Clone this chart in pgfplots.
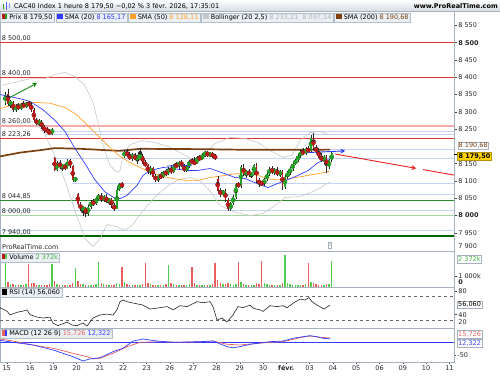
\documentclass[border=0pt]{standalone}
\usepackage{pgfplots}
\pgfplotsset{compat=1.18}
\usepackage{pgfplotstable}
\usepackage{fontspec}
\setmainfont{DejaVu Sans}
\usetikzlibrary{arrows.meta}

\definecolor{cGreenC}{RGB}{35,165,35}
\definecolor{cRedC}{RGB}{185,25,25}
\definecolor{vGreen}{RGB}{80,205,80}
\definecolor{vRed}{RGB}{232,95,95}
\definecolor{smaA}{RGB}{50,60,255}
\definecolor{smaB}{RGB}{255,160,40}
\definecolor{smaC}{RGB}{122,64,16}
\definecolor{boll}{RGB}{200,200,200}
\definecolor{hred}{RGB}{235,50,50}
\definecolor{hpink}{RGB}{245,170,170}
\definecolor{hblue}{RGB}{195,210,245}
\definecolor{hgreen}{RGB}{40,140,40}
\definecolor{hlgreen}{RGB}{165,212,165}
\definecolor{hdgreen}{RGB}{0,100,0}
\definecolor{frame}{RGB}{165,178,190}
\definecolor{legfill}{RGB}{234,239,243}
\definecolor{legdraw}{RGB}{180,190,200}
\definecolor{yellowbox}{RGB}{255,210,0}
\definecolor{redarrow}{RGB}{235,30,30}
\definecolor{bluearrow}{RGB}{40,60,240}
\definecolor{greenarrow}{RGB}{20,140,20}

\newcommand{\fs}{\fontsize{6.5}{7.5}\selectfont}
\newcommand{\sq}[1]{\textcolor{#1}{\rule{5.5pt}{5.5pt}}}
\newcommand{\cxe}{\thisrow{d}+(\thisrow{k}+0.5)/9}

% hourly candles: day index d (15 janv. = 0), hour k, open high low close, volume (k)
\pgfplotstableread{
d k O H L C V
-1 8 8325 8358 8320 8350 2290
0 0 8352 8365 8318 8322 420
0 1 8322 8335 8310 8328 260
0 2 8328 8332 8300 8305 230
0 3 8305 8322 8300 8318 180
0 4 8318 8326 8306 8310 150
0 5 8310 8325 8305 8320 140
0 6 8320 8330 8312 8316 170
0 7 8316 8328 8310 8324 260
0 8 8324 8332 8315 8320 2110
1 0 8320 8328 8300 8305 380
1 1 8305 8312 8270 8275 330
1 2 8275 8282 8262 8268 220
1 3 8268 8278 8258 8272 170
1 4 8272 8275 8250 8255 160
1 5 8255 8262 8240 8248 150
1 6 8248 8256 8238 8244 190
1 7 8244 8250 8232 8236 280
1 8 8236 8254 8233 8250 2110
2 0 8165 8170 8128 8132 520
2 1 8132 8158 8128 8152 300
2 2 8152 8160 8135 8140 210
2 3 8140 8150 8128 8145 170
2 4 8145 8152 8132 8136 150
2 5 8136 8165 8134 8160 200
2 6 8160 8165 8138 8142 180
2 7 8142 8145 8098 8102 330
2 8 8102 8112 8098 8108 1740
3 0 8062 8066 8030 8034 560
3 1 8034 8040 8012 8018 320
3 2 8018 8028 7998 8022 240
3 3 8022 8026 7995 8004 200
3 4 8004 8030 8000 8026 170
3 5 8026 8045 8020 8040 190
3 6 8040 8048 8028 8034 160
3 7 8034 8055 8030 8050 290
3 8 8050 8062 8044 8056 2290
4 0 8056 8065 8040 8046 400
4 1 8046 8060 8038 8055 250
4 2 8055 8062 8035 8040 200
4 3 8040 8052 8030 8048 160
4 4 8048 8050 8022 8028 180
4 5 8028 8036 8012 8020 200
4 6 8020 8080 8018 8075 330
4 7 8075 8094 8070 8090 300
4 8 8090 8096 8080 8086 1830
5 0 8170 8190 8165 8185 480
5 1 8185 8192 8168 8172 280
5 2 8172 8185 8160 8165 200
5 3 8165 8180 8158 8176 160
5 4 8176 8182 8160 8162 150
5 5 8162 8175 8150 8170 170
5 6 8170 8195 8165 8172 200
5 7 8172 8178 8148 8152 280
5 8 8152 8160 8140 8145 2200
6 0 8145 8150 8120 8125 400
6 1 8125 8142 8118 8138 240
6 2 8138 8140 8110 8112 200
6 3 8112 8120 8098 8104 180
6 4 8104 8118 8096 8115 150
6 5 8115 8125 8105 8110 140
6 6 8110 8130 8108 8126 170
6 7 8126 8134 8115 8120 250
6 8 8120 8140 8118 8136 2020
7 0 8136 8145 8120 8125 380
7 1 8125 8150 8122 8146 230
7 2 8146 8155 8138 8142 180
7 3 8142 8158 8136 8155 160
7 4 8155 8160 8140 8145 140
7 5 8145 8150 8125 8130 170
7 6 8130 8146 8126 8142 160
7 7 8142 8162 8138 8158 250
7 8 8158 8165 8150 8154 1830
8 0 8154 8168 8145 8150 360
8 1 8150 8172 8148 8168 220
8 2 8168 8176 8158 8162 170
8 3 8162 8180 8160 8176 150
8 4 8176 8186 8168 8182 160
8 5 8182 8188 8170 8174 140
8 6 8174 8185 8168 8180 150
8 7 8180 8184 8166 8170 240
8 8 8170 8178 8160 8168 2200
9 0 8105 8115 8066 8070 600
9 1 8070 8080 8055 8062 350
9 2 8062 8075 8058 8070 260
9 3 8070 8078 8040 8045 280
9 4 8045 8050 8012 8018 330
9 5 8018 8040 8012 8035 260
9 6 8035 8060 8030 8055 220
9 7 8055 8095 8048 8092 320
9 8 8092 8096 8080 8085 2290
10 0 8085 8145 8080 8140 500
10 1 8140 8148 8115 8120 300
10 2 8120 8132 8110 8128 200
10 3 8128 8135 8112 8118 170
10 4 8118 8125 8108 8122 160
10 5 8122 8150 8118 8145 220
10 6 8145 8152 8095 8100 330
10 7 8100 8110 8082 8095 280
10 8 8095 8100 8085 8092 2390
11 0 8092 8110 8085 8105 380
11 1 8105 8125 8100 8120 250
11 2 8120 8140 8115 8135 200
11 3 8135 8142 8120 8125 170
11 4 8125 8138 8118 8132 150
11 5 8132 8140 8115 8118 160
11 6 8118 8132 8112 8128 170
11 7 8128 8132 8075 8082 350
11 8 8082 8118 8078 8112 2940
12 0 8112 8130 8105 8125 400
12 1 8125 8140 8118 8135 240
12 2 8135 8155 8130 8150 200
12 3 8150 8165 8145 8160 170
12 4 8160 8178 8155 8172 180
12 5 8172 8190 8165 8185 200
12 6 8185 8195 8175 8180 170
12 7 8180 8198 8176 8192 260
12 8 8192 8200 8180 8186 2200
13 0 8186 8232 8182 8225 450
13 1 8225 8238 8190 8195 400
13 2 8195 8205 8180 8185 250
13 3 8185 8195 8165 8170 200
13 4 8170 8180 8155 8160 190
13 5 8160 8175 8150 8170 170
13 6 8170 8176 8124 8140 300
13 7 8140 8165 8135 8160 260
13 8 8160 8185 8155 8179.5 2372
}\candles

\pgfplotstableread{
x y
-0.288 8350
0.571 8338
1.000 8330
1.558 8306
2.073 8275
2.502 8243
2.931 8194
3.361 8150
3.790 8103
4.219 8068
4.648 8050
4.862 8049
5.163 8058
5.592 8087
5.850 8116
6.150 8130
6.708 8139
7.137 8136
7.738 8130
8.167 8130
8.725 8136
9.369 8121
9.798 8110
10.227 8107
10.657 8095
10.957 8087
11.215 8081
11.644 8093
12.073 8104
12.502 8116
12.931 8130
13.361 8153
13.661 8162
13.961 8165.17
}\smaTwenty

\pgfplotstableread{
x y
-0.288 8309
0.142 8318
1.000 8328
1.858 8325
2.502 8312
2.931 8295
3.361 8269
3.790 8240
4.219 8211
4.519 8191
4.862 8171
5.292 8153
5.721 8139
6.150 8126
6.708 8113
7.137 8107
7.738 8101
8.167 8101
8.725 8110
9.369 8116
9.798 8121
10.356 8121
10.786 8116
11.215 8106
11.644 8103
12.073 8106
12.502 8111
12.931 8116
13.361 8121
13.876 8128.11
}\smaFifty

\pgfplotstableread{
x y
-0.288 8171
0.571 8182
1.429 8189
2.073 8195
3.146 8193
4.862 8187
5.721 8193
8.296 8192
10.442 8190
12.588 8190
13.876 8190.68
}\smaTwoHundred

\pgfplotstableread{
x y
-0.288 8376
0.356 8385
1.000 8396
1.644 8396
2.073 8408
2.502 8414
2.931 8402
3.361 8376
3.704 8327
3.919 8269
4.090 8212
4.433 8145
4.734 8125
4.862 8130
4.991 8176
5.292 8205
5.807 8217
6.365 8211
6.923 8200
7.438 8182
8.082 8159
8.511 8182
8.940 8208
9.584 8226
10.227 8223
10.786 8211
11.300 8188
11.858 8168
12.245 8174
12.588 8217
13.017 8240
13.446 8243
13.876 8233.21
}\bollUp

\pgfplotstableread{
x y
-0.288 8269
0.571 8275
1.215 8270
1.644 8235
2.073 8170
2.502 8101
2.931 8014
3.361 7933
3.704 7910
4.004 7933
4.305 7974
4.734 7968
5.077 7957
5.421 7974
5.721 8003
6.150 8038
6.579 8067
7.009 8090
7.438 8105
7.867 8110
8.296 8100
8.725 8072
9.155 8029
9.798 8009
10.442 8000
11.000 8006
11.515 8029
11.944 8052
12.588 8055
13.232 8072
13.876 8097.14
}\bollLow

\pgfplotstableread{
x y
-0.288 51.7
0.013 46
0.142 39.5
0.442 44
0.700 46
0.871 48
1.000 40
1.300 36
1.558 34.5
1.858 36
1.987 26
2.202 21.7
2.588 27.8
2.803 22.8
3.017 21.7
3.275 26
3.447 21
3.704 34.5
4.004 39.5
4.305 41
4.562 39.5
4.734 48
4.862 61.7
4.991 64.5
5.163 61.7
5.421 59.5
5.850 56
6.150 49.5
6.451 51
6.880 53.5
7.137 48
7.438 55
7.738 53.5
8.167 61.7
8.425 60
8.725 61.7
8.854 53.5
9.026 31
9.241 34.5
9.455 27.8
9.712 39.5
9.927 53.5
10.142 51.7
10.442 56
10.571 51
10.871 48
11.000 45.5
11.300 55
11.601 53.5
11.858 55
12.030 51.7
12.288 59
12.588 66
12.803 64.5
12.974 68.5
13.103 61.7
13.361 55
13.618 49.5
13.876 56.06
}\rsi

\pgfplotstableread{
x y
-0.288 11.5
0.270 3.8
1.129 -11.5
1.987 -24
2.845 -43.5
3.447 -56.5
3.704 -65
4.004 -62.7
4.562 -43.5
5.163 -18
5.721 -1.2
6.579 1.2
7.438 -1.2
8.296 1.2
8.854 3.8
9.455 -8.8
10.013 -11.5
10.442 -7.7
11.300 -1.2
11.858 1.2
12.588 16.5
13.017 23
13.446 18
13.876 15.726
}\macdRed

\pgfplotstableread{
x y
-0.288 6.5
0.270 -1.2
1.129 -11.5
1.987 -30.8
2.845 -56.5
3.275 -73
3.575 -65
4.004 -60.4
4.562 -37.3
4.991 -24.2
5.421 3.8
5.850 11.5
6.451 3.8
7.137 -1.2
8.296 1.2
8.854 3.8
9.455 -18
9.712 -22
10.013 -18
10.442 -8.8
11.300 1.2
11.858 3.8
12.288 14.2
12.717 20.4
13.017 24.2
13.318 20.4
13.575 14.2
13.876 12.322
}\macdBlue

\pgfplotsset{
  panel/.style={scale only axis, width=454pt, xmin=-0.288, xmax=19.197,
    anchor=north west,
    axis line style={draw=frame, line width=0.6pt},
    tick style={draw=black!75, line width=0.4pt},
    tick align=outside, major tick length=3pt,
    ytick pos=right, yticklabel pos=right,
    xtick=\empty,
    tick label style={font=\fs, text=black!85},
    yticklabel style={anchor=west, inner sep=1.2pt},
  },
  hl/.style={forget plot, line width=#1},
}

\begin{document}
\begin{tikzpicture}
\useasboundingbox (0pt,0pt) rectangle (500pt,-375pt);

% ================= PRICE PANEL =================
\begin{axis}[panel, at={(0pt,-11pt)}, height=240pt, ymin=7897.3, ymax=8591.7,
  ytick={7950,8000,8050,8100,8150,8250,8300,8350,8400,8450,8500,8550},
  yticklabels={7 950,\textbf{8 000},8 050,8 100,8 150,8 250,8 300,8 350,8 400,8 450,\textbf{8 500},8 550}]
  % horizontal levels
  \addplot[hl=0.8pt, hred] coordinates {(-0.288,8500) (19.197,8500)};
  \addplot[hl=0.8pt, hred] coordinates {(-0.288,8400) (19.197,8400)};
  \addplot[hl=1.8pt, hpink] coordinates {(-0.288,8260) (19.197,8260)};
  \addplot[hl=0.7pt, hblue] coordinates {(1.644,8244) (19.197,8244)};
  \addplot[hl=0.7pt, hblue] coordinates {(1.644,8236) (19.197,8236)};
  \addplot[hl=0.8pt, hred] coordinates {(-0.288,8223.26) (19.197,8223.26)};
  \addplot[hl=0.7pt, hblue] coordinates {(4.862,8191) (19.197,8191)};
  \addplot[hl=0.7pt, hblue] coordinates {(1.987,8165) (19.197,8165)};
  \addplot[hl=0.7pt, hblue] coordinates {(2.803,8093) (19.197,8093)};
  \addplot[hl=0.7pt, hblue] coordinates {(4.862,8061) (19.197,8061)};
  \addplot[hl=0.8pt, hgreen] coordinates {(-0.288,8044.85) (19.197,8044.85)};
  \addplot[hl=0.7pt, hblue] coordinates {(-0.288,8016) (19.197,8016)};
  \addplot[hl=1.8pt, hlgreen] coordinates {(-0.288,8000) (19.197,8000)};
  \addplot[hl=0.7pt, hblue] coordinates {(-0.288,7958) (19.197,7958)};
  \addplot[hl=1.8pt, hdgreen] coordinates {(-0.288,7940) (19.197,7940)};
  % level labels
  \node[anchor=south west, inner sep=0.8pt, font=\fs, text=black!85] at (axis cs:-0.25,8500) {8 500,00};
  \node[anchor=south west, inner sep=0.8pt, font=\fs, text=black!85] at (axis cs:-0.25,8400) {8 400,00};
  \node[anchor=south west, inner sep=0.8pt, font=\fs, text=black!85] at (axis cs:-0.25,8260) {8 260,00};
  \node[anchor=south west, inner sep=0.8pt, font=\fs, text=black!85] at (axis cs:-0.25,8223.26) {8 223,26};
  \node[anchor=south west, inner sep=0.8pt, font=\fs, text=black!85] at (axis cs:-0.25,8044.85) {8 044,85};
  \node[anchor=south west, inner sep=0.8pt, font=\fs, text=black!85] at (axis cs:-0.25,8000) {8 000,00};
  \node[anchor=south west, inner sep=0.8pt, font=\fs, text=black!85] at (axis cs:-0.25,7940) {7 940,00};
  % Bollinger
  \addplot[boll, line width=0.6pt] table {\bollUp};
  \addplot[boll, line width=0.6pt] table {\bollLow};
  % SMA
  \addplot[smaC, line width=1.7pt] table {\smaTwoHundred};
  \addplot[smaB, line width=0.7pt] table {\smaFifty};
  \addplot[smaA, line width=0.7pt] table {\smaTwenty};
  % wicks
  \addplot[black!85, only marks, mark=none, error bars/.cd, y dir=both, y explicit, error mark=none,
    error bar style={line width=0.4pt}]
    table[x expr=\cxe, y expr=(\thisrow{H}+\thisrow{L})/2, y error expr=(\thisrow{H}-\thisrow{L})/2] {\candles};
  % bodies
  \addplot[cGreenC, only marks, mark=none, restrict expr to domain={\thisrow{C}-\thisrow{O}}{0:1000},
    error bars/.cd, y dir=both, y explicit, error mark=none,
    error bar style={line width=1.8pt, cGreenC}]
    table[x expr=\cxe, y expr=(\thisrow{O}+\thisrow{C})/2, y error expr=abs(\thisrow{C}-\thisrow{O})/2] {\candles};
  \addplot[cRedC, only marks, mark=none, restrict expr to domain={\thisrow{C}-\thisrow{O}}{-1000:-0.001},
    error bars/.cd, y dir=both, y explicit, error mark=none,
    error bar style={line width=1.8pt, cRedC}]
    table[x expr=\cxe, y expr=(\thisrow{O}+\thisrow{C})/2, y error expr=abs(\thisrow{C}-\thisrow{O})/2] {\candles};
  % trend arrows
  \addplot[greenarrow, line width=0.9pt, -{Stealth[length=4.5pt,width=4.5pt]}] coordinates {(-0.073,8334) (1.300,8383)};
  \addplot[bluearrow, line width=0.9pt, -{Stealth[length=4.5pt,width=5pt]}] coordinates {(6.880,8143) (7.953,8146)};
  \addplot[bluearrow, line width=0.9pt, -{Stealth[length=4.5pt,width=5pt]}] coordinates {(12.888,8182) (14.520,8187)};
  \addplot[redarrow, line width=0.9pt, -{Stealth[length=4.5pt,width=5pt]}] coordinates {(14.090,8178) (17.567,8136.5)};
  \addplot[redarrow, line width=0.9pt] coordinates {(17.867,8132.9) (19.197,8117)};
\end{axis}

% ================= VOLUME PANEL =================
\begin{axis}[panel, at={(0pt,-251pt)}, height=36pt, ymin=0, ymax=3303,
  ytick={1000}, yticklabels={1 000k}]
  \addplot[ycomb, vGreen, line width=1.4pt, restrict expr to domain={\thisrow{C}-\thisrow{O}}{0:1000}]
    table[x expr=\cxe, y=V] {\candles};
  \addplot[ycomb, vRed, line width=1.4pt, restrict expr to domain={\thisrow{C}-\thisrow{O}}{-1000:-0.001}]
    table[x expr=\cxe, y=V] {\candles};
\end{axis}

% ================= RSI PANEL =================
\begin{axis}[panel, at={(0pt,-287pt)}, height=41pt, ymin=17.8, ymax=86.2,
  ytick={40,80}, yticklabels={40,80}]
  \addplot[black!60, dashed, line width=0.5pt, forget plot] coordinates {(-0.288,70) (19.197,70)};
  \addplot[black!60, dashed, line width=0.5pt, forget plot] coordinates {(-0.288,30) (19.197,30)};
  \addplot[black!85, line width=0.6pt] table {\rsi};
\end{axis}

% ================= MACD PANEL =================
\begin{axis}[panel, at={(0pt,-328pt)}, height=34pt, ymin=-76.9, ymax=53.8,
  ytick={-50}, yticklabels={-50},
  xtick={0,1,...,19}, xtick pos=left, major tick length=2pt,
  xticklabels={15,16,19,20,21,22,23,26,27,28,29,30,\textbf{févr.},03,04,05,06,09,10,11},
  xticklabel style={inner sep=1.5pt}]
  \addplot[smaA, line width=0.9pt, forget plot] coordinates {(-0.288,0) (19.197,0)};
  \addplot[vRed, line width=0.7pt] table {\macdRed};
  \addplot[smaA, line width=0.7pt] table {\macdBlue};
\end{axis}

% ================= header & legends =================
\begin{scope}[x=1pt,y=1pt]
\shade[top color=white, bottom color=legfill!70!frame] (0,0) rectangle (500,-11);
\draw[frame, line width=0.5pt] (0,-11) -- (500,-11);
\fill[cGreenC] (3,-8.5) rectangle (4.3,-3.5);
\fill[smaA!80] (5.8,-9.5) rectangle (7.1,-2);
\fill[smaA!55] (8.6,-7.5) rectangle (9.9,-3);
\node[anchor=west, inner sep=0, font=\fs] at (14,-5.8) {CAC40 Index 1 heure 8 179,50 −0,02 \% 3 févr. 2026, 17:35:01};
\node[anchor=east, inner sep=0, font=\fs\bfseries] at (498,-6.2) {www.ProRealTime.com};

\tikzset{legbox/.style={draw=legdraw, fill=legfill, line width=0.4pt, inner xsep=1.6pt, inner ysep=1.1pt,
  anchor=north west, font=\fs, text height=5.3pt, text depth=1.4pt}}
\node[legbox] (l1) at (0,-12.6) {\textcolor{cRedC}{\rule{2.75pt}{5.5pt}}\textcolor{cGreenC}{\rule{2.75pt}{5.5pt}} Prix 8 179,50};
\node[legbox] (l2) at ([xshift=1.2pt]l1.north east) {\sq{smaA} SMA (20) \textcolor{smaA}{8 165,17}};
\node[legbox] (l3) at ([xshift=1.2pt]l2.north east) {\sq{smaB} SMA (50) \textcolor{smaB}{8 128,11}};
\node[legbox] (l4) at ([xshift=1.2pt]l3.north east) {\sq{boll} Bollinger (20 2,5) \textcolor{boll!90!black}{8 233,21 \ 8 097,14}};
\node[legbox] (l5) at ([xshift=1.2pt]l4.north east) {\sq{smaC} SMA (200) \textcolor{smaC}{8 190,68}};

\node[anchor=west, inner sep=0, font=\fs, text=black!85] at (2,-247) {ProRealTime.com};
\node[draw=frame, inner sep=0.9pt, font=\fontsize{5}{5}\selectfont, text=black!60] at (330,-245) {i};

\node[legbox] at (0,-252.6) {\textcolor{cRedC}{\rule{2.75pt}{5.5pt}}\textcolor{vGreen}{\rule{2.75pt}{5.5pt}} Volume \textcolor{vGreen!85!black}{2 372k}};
\node[legbox] at (0,-288) {\sq{black} RSI (14) 56,060};
\node[legbox] at (0,-329) {\textcolor{vRed}{\rule{2.75pt}{5.5pt}}\textcolor{smaA}{\rule{2.75pt}{5.5pt}} MACD (12 26 9) \textcolor{vRed}{15,726} \textcolor{smaA}{12,322}};

% right-side value boxes and shifted labels
\tikzset{rbox/.style={draw=frame, fill=white, line width=0.4pt, inner xsep=1pt, inner ysep=0.8pt, anchor=west, font=\fs, text height=5pt, text depth=1.2pt}}
\node[anchor=west, inner sep=1.2pt, font=\fs, text=black!85] at (457,-246.2) {7 900};
\draw[black, line width=0.5pt] (454,-154) -- (457.5,-154);
\node[rbox, text=smaC] at (457.5,-145.7) {8 190,68};
\node[rbox, fill=yellowbox, draw=yellowbox!70!black, font=\fs\bfseries, inner xsep=1.3pt] at (457,-156.2) {8 179,50};
\node[rbox, text=vGreen!85!black] at (457,-259.5) {2 372k};
\node[anchor=west, inner sep=1.2pt, font=\fs\bfseries, text=black!85] at (457,-282) {0};
\node[rbox] at (457,-304.7) {56,060};
\node[anchor=west, inner sep=1.2pt, font=\fs, text=black!85] at (457,-322) {20};
\node[rbox, text=vRed] at (457,-334.3) {15,726};
\node[rbox, text=smaA] at (457,-343.5) {12,322};
\end{scope}
\end{tikzpicture}
\end{document}
